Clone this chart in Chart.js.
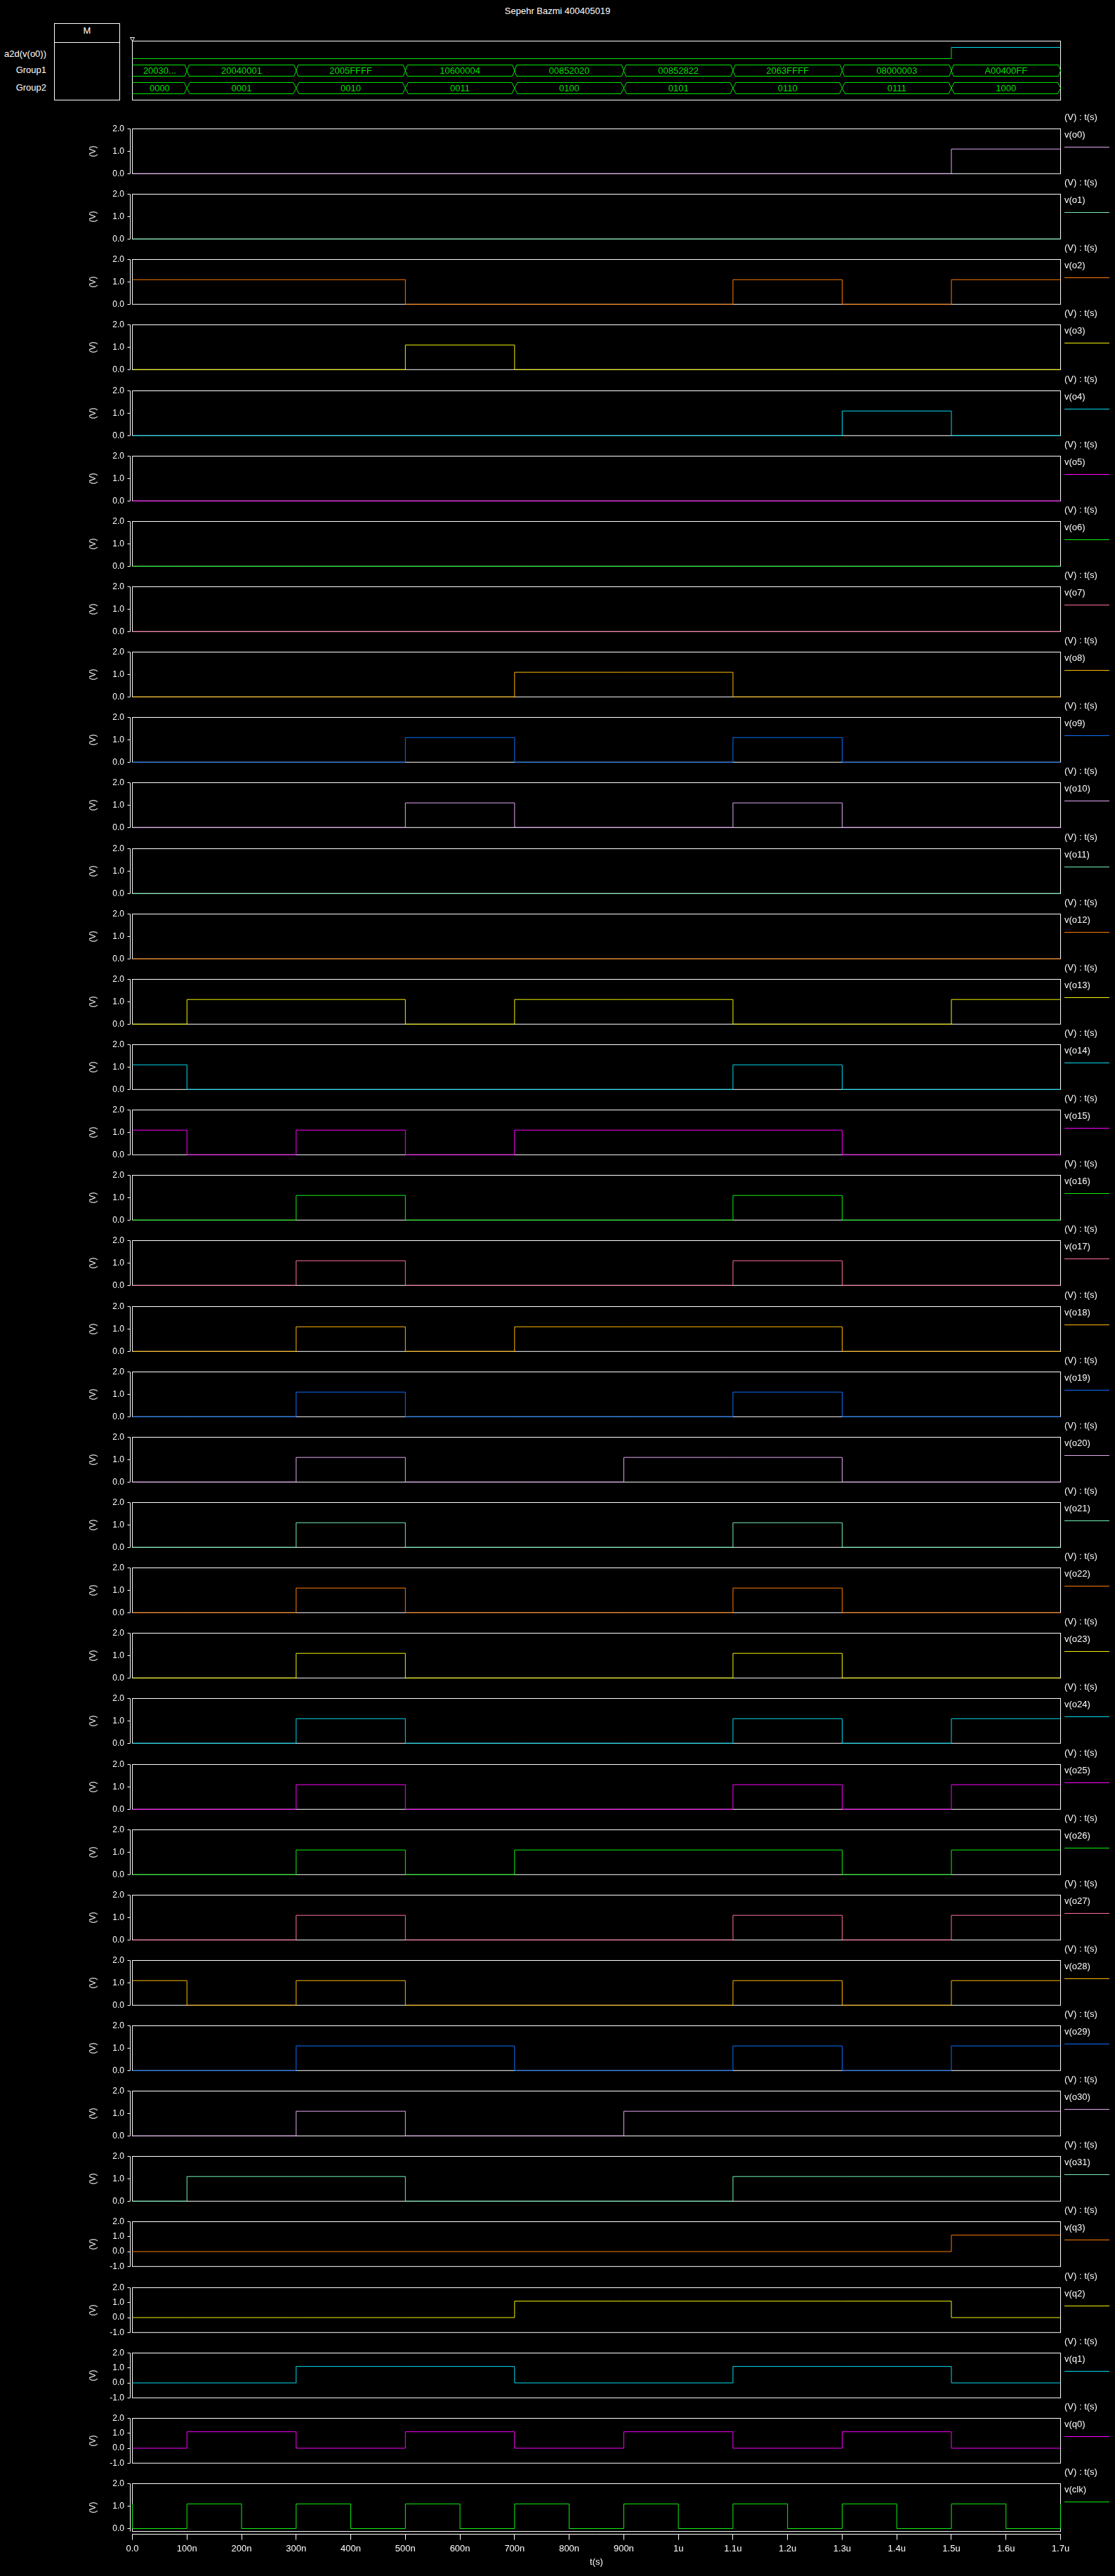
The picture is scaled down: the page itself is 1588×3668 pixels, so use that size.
<!DOCTYPE html>
<html><head><meta charset="utf-8">
<script src="https://cdn.jsdelivr.net/npm/chart.js@4.4.1/dist/chart.umd.min.js"></script>
<style>
html,body{margin:0;padding:0;background:#000;}
body{width:1588px;height:3668px;position:relative;overflow:hidden;font-family:'Liberation Sans','DejaVu Sans',Arial,sans-serif;color:#fff;}
.abs{position:absolute;white-space:nowrap;}
canvas{position:absolute;left:0;}
</style></head><body>
<div class="abs" style="left:0;width:1588px;top:8px;text-align:center;font-size:13px;line-height:16px;">Sepehr Bazmi 400405019</div>
<div class="abs" style="left:77px;top:33px;width:94px;height:110px;box-sizing:border-box;border:1px solid #fff;"></div>
<div class="abs" style="left:77px;top:60px;width:94px;height:1px;background:#fff;"></div>
<div class="abs" style="left:77px;top:36px;width:94px;text-align:center;font-size:13px;line-height:16px;">M</div>
<div class="abs" style="left:0;top:69px;width:66px;text-align:right;font-size:13px;line-height:16px;">a2d(v(o0))</div>
<div class="abs" style="left:0;top:92px;width:66px;text-align:right;font-size:13px;line-height:16px;">Group1</div>
<div class="abs" style="left:0;top:117px;width:66px;text-align:right;font-size:13px;line-height:16px;">Group2</div>
<script>
// ---------- DATA ----------
// segment boundaries (ns)
const SEG_T = [0,100,300,500,700,900,1100,1300,1500,1700];
// bus values per segment
const GROUP1 = ['20030008','20040001','2005FFFF','10600004','00852020','00852822','2063FFFF','08000003','A00400FF'];
const GROUP2 = ['0000','0001','0010','0011','0100','0101','0110','0111','1000'];
const A2D = [0,0,0,0,0,0,0,0,1];
// voltages per segment (V)
const o0  = [0,0,0,0,0,0,0,0,1.1];
const o1  = [0,0,0,0,0,0,0,0,0];
const o2  = [1.1,1.1,1.1,0,0,0,1.1,0,1.1];
const o3  = [0,0,0,1.1,0,0,0,0,0];
const o4  = [0,0,0,0,0,0,0,1.1,0];
const o5  = [0,0,0,0,0,0,0,0,0];
const o6  = [0,0,0,0,0,0,0,0,0];
const o7  = [0,0,0,0,0,0,0,0,0];
const o8  = [0,0,0,0,1.1,1.1,0,0,0];
const o9  = [0,0,0,1.1,0,0,1.1,0,0];
const o10 = [0,0,0,1.1,0,0,1.1,0,0];
const o11 = [0,0,0,0,0,0,0,0,0];
const o12 = [0,0,0,0,0,0,0,0,0];
const o13 = [0,1.1,1.1,0,1.1,1.1,0,0,1.1];
const o14 = [1.1,0,0,0,0,0,1.1,0,0];
const o15 = [1.1,0,1.1,0,1.1,1.1,1.1,0,0];
const o16 = [0,0,1.1,0,0,0,1.1,0,0];
const o17 = [0,0,1.1,0,0,0,1.1,0,0];
const o18 = [0,0,1.1,0,1.1,1.1,1.1,0,0];
const o19 = [0,0,1.1,0,0,0,1.1,0,0];
const o20 = [0,0,1.1,0,0,1.1,1.1,0,0];
const o21 = [0,0,1.1,0,0,0,1.1,0,0];
const o22 = [0,0,1.1,0,0,0,1.1,0,0];
const o23 = [0,0,1.1,0,0,0,1.1,0,0];
const o24 = [0,0,1.1,0,0,0,1.1,0,1.1];
const o25 = [0,0,1.1,0,0,0,1.1,0,1.1];
const o26 = [0,0,1.1,0,1.1,1.1,1.1,0,1.1];
const o27 = [0,0,1.1,0,0,0,1.1,0,1.1];
const o28 = [1.1,0,1.1,0,0,0,1.1,0,1.1];
const o29 = [0,0,1.1,1.1,0,0,1.1,0,1.1];
const o30 = [0,0,1.1,0,0,1.1,1.1,1.1,1.1];
const o31 = [0,1.1,1.1,0,0,0,1.1,1.1,1.1];
const q3  = [0,0,0,0,0,0,0,0,1.1];
const q2  = [0,0,0,0,1.1,1.1,1.1,1.1,0];
const q1  = [0,0,1.1,1.1,0,0,1.1,1.1,0];
const q0  = [0,1.1,0,1.1,0,1.1,0,1.1,0];
const CLK_T = [0,0,100,200,300,400,500,600,700,800,900,1000,1100,1200,1300,1400,1500,1600,1700];
const CLK_V = [1.1,0,1.1,0,1.1,0,1.1,0,1.1,0,1.1,0,1.1,0,1.1,0,1.1,0,1.1];
// axis ticks
const X_TICKS = [0,100,200,300,400,500,600,700,800,900,1000,1100,1200,1300,1400,1500,1600,1700];
const X_LABELS = ['0.0','100n','200n','300n','400n','500n','600n','700n','800n','900n','1u','1.1u','1.2u','1.3u','1.4u','1.5u','1.6u','1.7u'];
const Y_TICKS_O = [0,1,2];
const Y_TICKS_Q = [-1,0,1,2];

// ---------- STYLE ----------
const FONT = "'Liberation Sans','DejaVu Sans',Arial,sans-serif";
const COLORS = ['#e4a8f2','#74f2b4','#ff7a00','#f4f400','#00dcf0','#ff00ff','#10f010','#ff6ea0','#ffb800','#0a70ff'];
const PANEL_TOP0 = 183, PANEL_PITCH = 93.14;

Chart.defaults.font.family = FONT;
Chart.defaults.color = '#fff';

const deco = {
  id: 'deco',
  beforeDatasetsDraw(chart, args, opts) {
    const {ctx, chartArea: a, scales: {x, y}} = chart;
    ctx.save();
    ctx.strokeStyle = '#fff'; ctx.lineWidth = 1;
    ctx.strokeRect(a.left, a.top, a.right - a.left, a.bottom - a.top);
    ctx.beginPath();
    ctx.moveTo(a.left - 3, a.top); ctx.lineTo(a.left - 3, a.bottom);
    y.ticks.forEach((t, i) => {
      const py = Math.round(y.getPixelForTick(i) - 0.5) + 0.5;
      ctx.moveTo(a.left - 7, py); ctx.lineTo(a.left - 3, py);
    });
    if (opts.xAxis) {
      const by = a.bottom + 4;
      ctx.moveTo(a.left, by); ctx.lineTo(a.right, by);
      x.ticks.forEach((t, i) => {
        const px = Math.round(x.getPixelForTick(i) - 0.5) + 0.5;
        ctx.moveTo(px, by); ctx.lineTo(px, by + 8);
      });
    }
    ctx.stroke();
    ctx.restore();
  },
  afterDraw(chart, args, opts) {
    const {ctx, chartArea: a} = chart;
    ctx.save();
    ctx.fillStyle = '#fff';
    ctx.font = '13px ' + FONT;
    ctx.textAlign = 'left'; ctx.textBaseline = 'middle';
    ctx.fillText('(V) : t(s)', 1516, a.top - 16.5);
    ctx.fillText(opts.name, 1516, a.top + 9);
    ctx.strokeStyle = opts.color; ctx.lineWidth = 1;
    ctx.beginPath();
    ctx.moveTo(1516, a.top + 26); ctx.lineTo(1580, a.top + 26);
    ctx.stroke();
    ctx.restore();
  }
};

function panelChart(i, name, vals, times, color, yMin, yMax, yTicks, isLast) {
  const T = Math.round(PANEL_TOP0 + i * PANEL_PITCH);
  const H = isLast ? 157 : 111;
  const cv = document.createElement('canvas');
  cv.width = 1588; cv.height = H;
  cv.style.top = (T - 28) + 'px'; cv.style.width = '1588px'; cv.style.height = H + 'px';
  document.body.appendChild(cv);
  const data = times.map((t, k) => ({x: t, y: vals[Math.min(k, vals.length - 1)]}));
  const xScale = isLast ? {
    type: 'linear', min: 0, max: 1700, position: 'bottom',
    afterBuildTicks: s => { s.ticks = X_TICKS.map(v => ({value: v})); },
    afterFit: s => { s.height = 60; },
    grid: {display: false, drawTicks: false, tickLength: 0}, border: {display: false},
    ticks: {color: '#fff', font: {size: 13, family: FONT}, padding: 17, autoSkip: false, maxRotation: 0, minRotation: 0,
            callback: (v, idx) => X_LABELS[idx]},
    title: {display: true, text: 't(s)', color: '#fff', font: {size: 13, family: FONT}, padding: {top: 0, bottom: 8.7}}
  } : {type: 'linear', min: 0, max: 1700, display: false};
  new Chart(cv, {
    type: 'line',
    data: {datasets: [{label: name, data, borderColor: color, borderWidth: 1, pointRadius: 0,
                       stepped: true, clip: false, fill: false, tension: 0}]},
    options: {
      responsive: false, animation: false, devicePixelRatio: 1,
      layout: {padding: {left: 0, top: 28.5, right: 77.5, bottom: isLast ? 0.5 : 14.5}},
      plugins: {legend: {display: false}, tooltip: {enabled: false}, deco: {name, color, xAxis: isLast}},
      scales: {
        x: xScale,
        y: {
          type: 'linear', min: yMin, max: yMax, position: 'left',
          afterBuildTicks: s => { s.ticks = yTicks.map(v => ({value: v})); },
          afterFit: s => { s.width = 188.5; },
          grid: {display: false, drawTicks: false, tickLength: 0}, border: {display: false},
          ticks: {color: '#fff', font: {size: 12, family: FONT}, padding: 11.5, callback: v => v.toFixed(1)},
          title: {display: true, text: '(V)', color: '#fff', font: {size: 12, family: FONT}, padding: {top: 125.8, bottom: 0}}
        }
      }
    },
    plugins: [deco]
  });
}

// bus / digital panel
const busDeco = {
  id: 'busDeco',
  beforeDatasetsDraw(chart) {
    const {ctx, chartArea: a, scales: {x}} = chart;
    ctx.save();
    ctx.strokeStyle = '#fff'; ctx.lineWidth = 1;
    ctx.strokeRect(a.left, a.top, a.right - a.left, a.bottom - a.top);
    ctx.beginPath();
    ctx.moveTo(a.left - 3, a.top - 5); ctx.lineTo(a.left + 3, a.top - 5); ctx.lineTo(a.left, a.top); ctx.closePath();
    ctx.stroke();
    const xs = SEG_T.map(t => x.getPixelForValue(t));
    const busColor = '#00e800';
    function drawBus(labels, top, bot, bev) {
      const mid = (top + bot) / 2;
      ctx.strokeStyle = busColor; ctx.fillStyle = busColor;
      ctx.beginPath();
      for (let k = 0; k < labels.length; k++) {
        const x0 = xs[k], x1 = xs[k + 1];
        if (k === 0) ctx.moveTo(x0, top); else { ctx.moveTo(x0, mid); ctx.lineTo(x0 + bev, top); }
        ctx.lineTo(x1 - bev, top); ctx.lineTo(x1, mid); ctx.lineTo(x1 - bev, bot);
        if (k === 0) ctx.lineTo(x0, bot); else { ctx.lineTo(x0 + bev, bot); ctx.lineTo(x0, mid); }
      }
      ctx.stroke();
      ctx.font = '13px ' + FONT; ctx.textAlign = 'center'; ctx.textBaseline = 'middle';
      for (let k = 0; k < labels.length; k++) {
        const x0 = xs[k], x1 = xs[k + 1];
        const maxW = (x1 - x0) - 24;
        let s = labels[k];
        if (ctx.measureText(s).width > maxW) {
          while (s.length > 1 && ctx.measureText(s + '...').width > maxW) s = s.slice(0, -1);
          s = s + '...';
        }
        ctx.fillText(s, (x0 + x1) / 2, mid + 0.5);
      }
    }
    drawBus(GROUP1, 92.5, 108.5, 3);
    drawBus(GROUP2, 117.5, 133.5, 4);
    ctx.restore();
  }
};
(function () {
  const cv = document.createElement('canvas');
  cv.width = 1588; cv.height = 150;
  cv.style.top = '0px'; cv.style.width = '1588px'; cv.style.height = '150px';
  document.body.appendChild(cv);
  new Chart(cv, {
    type: 'line',
    data: {datasets: [{label: 'a2d(v(o0))', data: SEG_T.map((t, k) => ({x: t, y: A2D[Math.min(k, A2D.length - 1)]})),
      borderColor: '#00e800', borderWidth: 1, pointRadius: 0, stepped: true, clip: false,
      segment: {borderColor: c => c.p0.parsed.y > 0.5 ? '#00dce8' : '#00e800'}}]},
    options: {
      responsive: false, animation: false, devicePixelRatio: 1,
      layout: {padding: {left: 188.5, top: 58.5, right: 77.5, bottom: 7.5}},
      plugins: {legend: {display: false}, tooltip: {enabled: false}},
      scales: {x: {type: 'linear', min: 0, max: 1700, display: false},
               y: {type: 'linear', min: -3.6875, max: 1.5625, display: false}}
    },
    plugins: [busDeco]
  });
})();

const SIGNALS = [
  ['v(o0)', o0], ['v(o1)', o1], ['v(o2)', o2], ['v(o3)', o3], ['v(o4)', o4], ['v(o5)', o5], ['v(o6)', o6], ['v(o7)', o7],
  ['v(o8)', o8], ['v(o9)', o9], ['v(o10)', o10], ['v(o11)', o11], ['v(o12)', o12], ['v(o13)', o13], ['v(o14)', o14], ['v(o15)', o15],
  ['v(o16)', o16], ['v(o17)', o17], ['v(o18)', o18], ['v(o19)', o19], ['v(o20)', o20], ['v(o21)', o21], ['v(o22)', o22], ['v(o23)', o23],
  ['v(o24)', o24], ['v(o25)', o25], ['v(o26)', o26], ['v(o27)', o27], ['v(o28)', o28], ['v(o29)', o29], ['v(o30)', o30], ['v(o31)', o31]
];
SIGNALS.forEach(([n, v], i) => panelChart(i, n, v, SEG_T, COLORS[i % 10], 0, 2, Y_TICKS_O, false));
const QSIG = [['v(q3)', q3], ['v(q2)', q2], ['v(q1)', q1], ['v(q0)', q0]];
QSIG.forEach(([n, v], j) => { const i = 32 + j; panelChart(i, n, v, SEG_T, COLORS[i % 10], -1, 2, Y_TICKS_Q, false); });
panelChart(36, 'v(clk)', CLK_V, CLK_T, COLORS[6], -0.125, 2, Y_TICKS_O, true);
</script>
</body></html>
